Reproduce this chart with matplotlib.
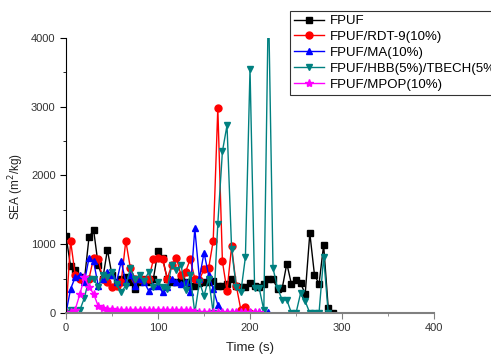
import matplotlib
matplotlib.use("Agg")
import matplotlib.pyplot as plt
from matplotlib.ticker import MultipleLocator

plt.rcParams['font.family'] = ['Liberation Sans', 'DejaVu Sans']

t_fpuf = list(range(0, 295, 5))
fpuf = [1120, 680, 620, 520, 480, 1100, 1210, 700, 500, 920,
        550, 450, 500, 520, 450, 350, 450, 500, 450, 500,
        900, 800, 500, 450, 450, 500, 450, 400, 400, 430,
        450, 450, 470, 400, 400, 420, 500, 400, 380, 380,
        430, 400, 380, 420, 500, 490, 350, 360, 720, 420,
        480, 430, 280, 1160, 560, 420, 990, 70, 0]

t_rdt = list(range(0, 205, 5))
rdt = [0, 1050, 550, 500, 480, 500, 800, 780, 500, 450,
       380, 400, 450, 1050, 650, 500, 500, 480, 500, 780,
       800, 780, 500, 700, 800, 550, 600, 780, 500, 480,
       640, 650, 1050, 2980, 750, 320, 970, 400, 50, 90, 0]

t_ma = list(range(0, 225, 5))
ma = [0, 350, 520, 550, 450, 800, 750, 400, 500, 600,
      550, 450, 750, 450, 550, 400, 500, 450, 320, 400,
      400, 300, 380, 500, 450, 420, 450, 300, 1230, 500,
      880, 550, 350, 120, 20, 10, 10, 10, 10, 10,
      10, 10, 10, 10, 10]

t_hbb = list(range(0, 290, 5))
hbb = [0, 50, 30, 40, 220, 500, 500, 380, 550, 530,
       600, 420, 300, 400, 650, 500, 550, 470, 600, 380,
       450, 380, 350, 700, 620, 700, 330, 550, 0, 450,
       250, 500, 0, 1300, 2350, 2730, 930, 380, 300, 815,
       3550, 360, 360, 40, 4600, 650, 360, 190, 190, 0,
       0, 290, 170, 0, 0, 0, 815, 0]

t_mpop = list(range(0, 215, 5))
mpop = [0, 20, 50, 270, 520, 380, 280, 100, 70, 60,
        55, 50, 50, 45, 50, 45, 50, 45, 50, 45,
        50, 45, 40, 45, 40, 45, 40, 50, 20, 15,
        15, 15, 15, 15, 15, 15, 15, 15, 15, 15,
        15, 15, 15]

series = [
    ("FPUF", t_fpuf, fpuf, "black", "s", 4.5),
    ("FPUF/RDT-9(10%)", t_rdt, rdt, "red", "o", 5),
    ("FPUF/MA(10%)", t_ma, ma, "blue", "^", 5),
    ("FPUF/HBB(5%)/TBECH(5%)", t_hbb, hbb, "#008080", "v", 5),
    ("FPUF/MPOP(10%)", t_mpop, mpop, "magenta", "*", 6),
]

fig = plt.figure(figsize=(4.91, 3.54), dpi=100)
ax = fig.add_axes([0.1344, 0.1158, 0.7496, 0.7769])

for name, t, v, c, m, ms in series:
    ax.plot(t, v, color=c, marker=m, markersize=ms, linewidth=1.0, label=name)

ax.set_xlim(0, 400)
ax.set_ylim(0, 4000)
ax.xaxis.set_major_locator(MultipleLocator(100))
ax.xaxis.set_minor_locator(MultipleLocator(50))
ax.yaxis.set_major_locator(MultipleLocator(1000))
ax.yaxis.set_minor_locator(MultipleLocator(500))

for s in ["top", "right"]:
    ax.spines[s].set_visible(False)
ax.spines["left"].set_color("black")
ax.spines["bottom"].set_color("#808080")
ax.spines["bottom"].set_linewidth(1.5)
ax.tick_params(axis="both", which="major", direction="out", length=4, labelsize=8, labelcolor="#333333")
ax.tick_params(axis="both", which="minor", direction="out", length=2)
ax.tick_params(axis="x", which="both", color="#808080")

ax.set_xlabel("Time (s)", fontsize=9.5, color="#222222", labelpad=6)
ax.set_ylabel(r"SEA (m$^{2}$/kg)", fontsize=8.5, color="#222222")
ax.yaxis.set_label_coords(-0.11, 0.46)

leg = fig.legend(loc="upper left", bbox_to_anchor=(0.5906, 0.969), fontsize=9.5,
                 frameon=True, fancybox=False, edgecolor="black", borderaxespad=0,
                 handlelength=2.3, borderpad=0.3, labelspacing=0.28, handletextpad=0.4)
leg.get_frame().set_linewidth(0.8)

fig.savefig("out.png", dpi=100)
